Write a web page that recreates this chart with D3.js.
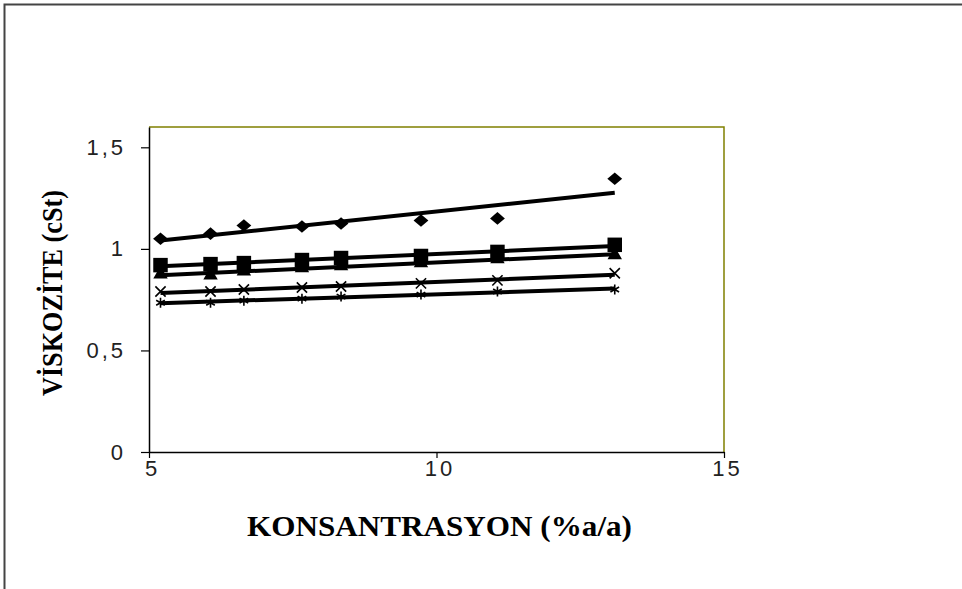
<!DOCTYPE html>
<html>
<head>
<meta charset="utf-8">
<script src="https://cdn.jsdelivr.net/npm/d3@7/dist/d3.min.js"></script>
<style>
  html, body { margin: 0; padding: 0; background: #fff; }
  svg { display: block; }
</style>
</head>
<body>
<svg id="chart" width="962" height="589"></svg>
<script>
// Concentration (% w/w) of each measured sample
const konsantrasyon = [5.2, 6.07, 6.65, 7.66, 8.34, 9.73, 11.06, 13.1];

// Viscosity (cSt) of the five sample series
const seriDiamond  = [1.05, 1.075, 1.115, 1.11, 1.125, 1.14, 1.15, 1.345];
const seriSquare   = [0.92, 0.925, 0.93, 0.945, 0.955, 0.965, 0.985, 1.02];
const seriTriangle = [0.875, 0.87, 0.89, 0.905, 0.915, 0.93, 0.95, 0.97];
const seriCross    = [0.79, 0.79, 0.80, 0.81, 0.815, 0.83, 0.845, 0.88];
const seriStar     = [0.735, 0.735, 0.745, 0.755, 0.765, 0.775, 0.79, 0.80];

const xTicks = [5, 10, 15];
const yTicks = [0, 0.5, 1, 1.5];

// wide diamond marker
const wideDiamond = {
  draw(context, size) {
    const r = Math.sqrt(size / 2);
    context.moveTo(0, -r * 0.85);
    context.lineTo(r, 0);
    context.lineTo(0, r * 0.85);
    context.lineTo(-r, 0);
    context.closePath();
  }
};

const series = [
  { values: seriDiamond,  symbol: wideDiamond,       size: 110, fill: true },
  { values: seriSquare,   symbol: d3.symbolSquare,   size: 210, fill: true },
  { values: seriTriangle, symbol: d3.symbolTriangle, size: 90,  fill: true },
  { values: seriCross,    symbol: d3.symbolTimes,    size: 70,  fill: false },
  { values: seriStar,     symbol: d3.symbolAsterisk, size: 70,  fill: false }
];

const svg = d3.select("#chart");

// outer frame
svg.append("rect")
  .attr("x", 4.5).attr("y", 4.5)
  .attr("width", 970).attr("height", 600)
  .attr("fill", "none").attr("stroke", "#444").attr("stroke-width", 2);

const plot = { left: 149, right: 724, top: 127, bottom: 452 };

const x = d3.scaleLinear().domain([5, 15]).range([plot.left, plot.right]);
const y = d3.scaleLinear().domain([0, 1.6]).range([plot.bottom, plot.top]);

// plot area border (top / right)
svg.append("path")
  .attr("d", `M${plot.left},${plot.top}H${plot.right}V${plot.bottom}`)
  .attr("fill", "none").attr("stroke", "#808000").attr("stroke-width", 1.5);

const fmt = d => String(d).replace(".", ",");

const xAxis = svg.append("g")
  .attr("transform", `translate(0,${plot.bottom})`)
  .call(d3.axisBottom(x).tickValues(xTicks).tickSize(6).tickSizeOuter(0).tickFormat(fmt));

const yAxis = svg.append("g")
  .attr("transform", `translate(${plot.left},0)`)
  .call(d3.axisLeft(y).tickValues(yTicks).tickSize(8).tickSizeOuter(0).tickFormat(fmt));

[xAxis, yAxis].forEach(g => {
  g.select(".domain").attr("stroke", "#000").attr("stroke-width", 1.5);
  g.selectAll(".tick line").attr("stroke", "#000").attr("stroke-width", 1.2);
  g.selectAll(".tick text")
    .attr("font-family", "'Liberation Sans', Arial, sans-serif")
    .attr("font-size", 22)
    .attr("letter-spacing", 3)
    .attr("fill", "#222");
});
xAxis.selectAll(".tick text").attr("y", 8).attr("dy", "0.71em").attr("dx", 3);
yAxis.selectAll(".tick text").attr("x", -23);

// linear least-squares trend line over each series
function fit(xs, ys) {
  const mx = d3.mean(xs), my = d3.mean(ys);
  let sxy = 0, sxx = 0;
  xs.forEach((v, i) => { sxy += (v - mx) * (ys[i] - my); sxx += (v - mx) * (v - mx); });
  const b = sxy / sxx, a = my - b * mx;
  return v => a + b * v;
}

const x0 = d3.min(konsantrasyon), x1 = d3.max(konsantrasyon);

series.forEach(s => {
  const f = fit(konsantrasyon, s.values);
  svg.append("line")
    .attr("x1", x(x0)).attr("y1", y(f(x0)))
    .attr("x2", x(x1)).attr("y2", y(f(x1)))
    .attr("stroke", "#000").attr("stroke-width", 4);
});

series.forEach(s => {
  svg.append("g").selectAll("path")
    .data(s.values)
    .join("path")
    .attr("transform", (d, i) => `translate(${x(konsantrasyon[i])},${y(d)})`)
    .attr("d", d3.symbol(s.symbol, s.size))
    .attr("fill", s.fill ? "#000" : "none")
    .attr("stroke", "#000")
    .attr("stroke-width", s.fill ? 0 : 1.6);
});

// axis titles
svg.append("text")
  .attr("x", 247)
  .attr("y", 536)
  .attr("textLength", 385)
  .attr("lengthAdjust", "spacingAndGlyphs")
  .attr("font-family", "'Liberation Serif', 'Times New Roman', serif")
  .attr("font-weight", "bold")
  .attr("font-size", 30)
  .text("KONSANTRASYON (%a/a)");

svg.append("text")
  .attr("transform", `translate(62,396) rotate(-90)`)
  .attr("textLength", 206)
  .attr("lengthAdjust", "spacingAndGlyphs")
  .attr("font-family", "'Liberation Serif', 'Times New Roman', serif")
  .attr("font-weight", "bold")
  .attr("font-size", 30)
  .text("VİSKOZİTE (cSt)");
</script>
</body>
</html>
